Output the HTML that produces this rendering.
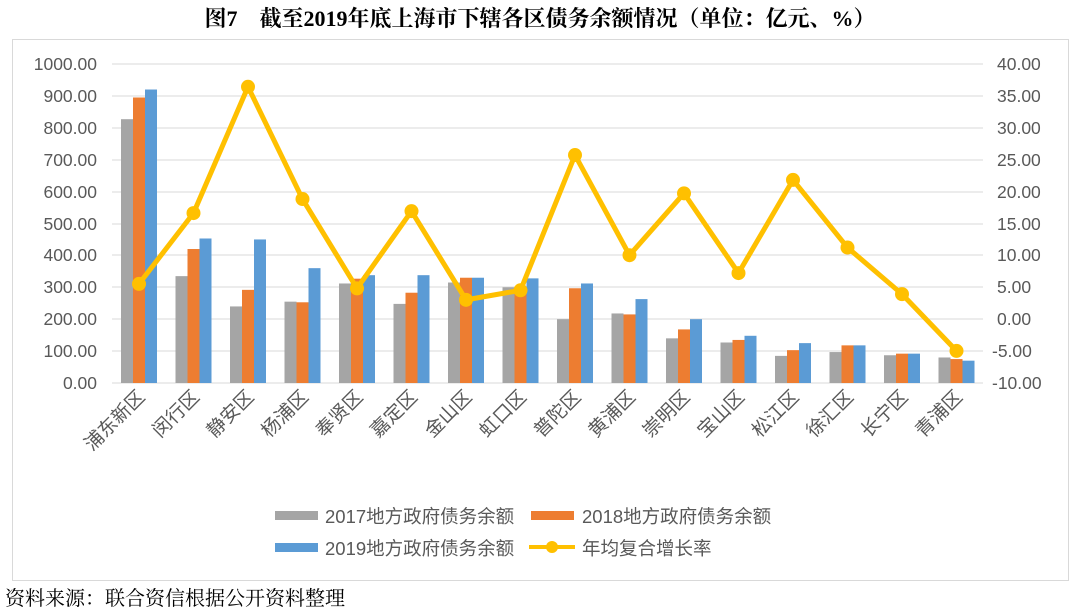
<!DOCTYPE html>
<html><head><meta charset="utf-8"><style>
html,body{margin:0;padding:0;background:#fff;width:1080px;height:616px;overflow:hidden}
text{font-family:"Liberation Sans","Noto Sans CJK SC",sans-serif}
</style></head><body>
<svg width="1080" height="616" xmlns="http://www.w3.org/2000/svg">
<text x="540" y="26" text-anchor="middle" font-size="22" font-weight="bold" fill="#000" style="font-family:'Liberation Serif','Noto Serif CJK SC',serif">图7　截至2019年底上海市下辖各区债务余额情况（单位：亿元、%）</text>
<rect x="12.5" y="39.5" width="1056" height="541" fill="none" stroke="#d9d9d9" stroke-width="1"/>
<g stroke="#d9d9d9" stroke-width="1">
<line x1="112" x2="983" y1="64" y2="64"/><line x1="112" x2="983" y1="96" y2="96"/><line x1="112" x2="983" y1="128" y2="128"/><line x1="112" x2="983" y1="160" y2="160"/><line x1="112" x2="983" y1="192" y2="192"/><line x1="112" x2="983" y1="224" y2="224"/><line x1="112" x2="983" y1="255" y2="255"/><line x1="112" x2="983" y1="287" y2="287"/><line x1="112" x2="983" y1="319" y2="319"/><line x1="112" x2="983" y1="351" y2="351"/><line x1="112" x2="983" y1="383" y2="383"/>
</g>
<g font-size="17.5" fill="#595959" text-anchor="end">
<text x="97" y="70">1000.00</text><text x="97" y="102">900.00</text><text x="97" y="134">800.00</text><text x="97" y="166">700.00</text><text x="97" y="198">600.00</text><text x="97" y="230">500.00</text><text x="97" y="261">400.00</text><text x="97" y="293">300.00</text><text x="97" y="325">200.00</text><text x="97" y="357">100.00</text><text x="97" y="389">0.00</text>
</g>
<g font-size="17.5" fill="#595959" text-anchor="start">
<text x="997" y="70">40.00</text><text x="997" y="102">35.00</text><text x="997" y="134">30.00</text><text x="997" y="166">25.00</text><text x="997" y="198">20.00</text><text x="997" y="230">15.00</text><text x="997" y="261">10.00</text><text x="997" y="293">5.00</text><text x="997" y="325">0.00</text><text x="992" y="357">-5.00</text><text x="992" y="389">-10.00</text>
</g>
<g id="bars"></g>
<g id="labels" font-size="19" fill="#595959" style="font-family:'Liberation Serif','Noto Serif CJK SC',serif"></g>
<polyline id="line" fill="none" stroke="#ffc000" stroke-width="5" stroke-linejoin="round"/>
<g id="dots" fill="#ffc000"></g>
<g font-size="18.5" fill="#595959">
<rect x="275" y="511" width="43" height="9" fill="#a5a5a5"/><text x="325" y="523">2017地方政府债务余额</text>
<rect x="531" y="511" width="43" height="9" fill="#ed7d31"/><text x="582" y="523">2018地方政府债务余额</text>
<rect x="275" y="543" width="43" height="9" fill="#5b9bd5"/><text x="325" y="555">2019地方政府债务余额</text>
<line x1="529" x2="575" y1="547" y2="547" stroke="#ffc000" stroke-width="4"/><circle cx="552" cy="547" r="6" fill="#ffc000"/><text x="582" y="555">年均复合增长率</text>
</g>
<text x="5" y="605" font-size="20" fill="#000" style="font-family:'Liberation Serif','Noto Serif CJK SC',serif">资料来源：联合资信根据公开资料整理</text>
</svg>
<script>
var names=["浦东新区","闵行区","静安区","杨浦区","奉贤区","嘉定区","金山区","虹口区","普陀区","黄浦区","崇明区","宝山区","松江区","徐汇区","长宁区","青浦区"];
var d=[[827,895,920,5.5],[335,420,453,16.6],[240,292,450,36.4],[255,253,360,18.8],[312,327,338,4.8],[248,283,338,16.9],[315,330,330,3],[300,300,328,4.5],[200,297,312,25.7],[218,215,263,10],[140,168,200,19.7],[127,135,148,7.2],[85,103,125,21.8],[97,118,118,11.2],[87,92,92,3.9],[80,75,70,-5.0]];
var cols=["#a5a5a5","#ed7d31","#5b9bd5"],ns="http://www.w3.org/2000/svg";
var bars=document.getElementById("bars"),labs=document.getElementById("labels"),dots=document.getElementById("dots"),pts=[];
d.forEach(function(r,i){var cx=139+i*54.5;
for(var k=0;k<3;k++){var h=r[k]*0.319,e=document.createElementNS(ns,"rect");e.setAttribute("x",cx-18+k*12);e.setAttribute("width",12);e.setAttribute("y",383-h);e.setAttribute("height",h);e.setAttribute("fill",cols[k]);bars.appendChild(e);}
var y=319-r[3]*6.38;pts.push(cx+","+y);var c=document.createElementNS(ns,"circle");c.setAttribute("cx",cx);c.setAttribute("cy",y);c.setAttribute("r",7);dots.appendChild(c);
var t=document.createElementNS(ns,"text");t.setAttribute("text-anchor","end");t.setAttribute("transform","translate("+(cx+7)+",398) rotate(-45)");t.textContent=names[i];labs.appendChild(t);});
document.getElementById("line").setAttribute("points",pts.join(" "));
</script>
</body></html>
